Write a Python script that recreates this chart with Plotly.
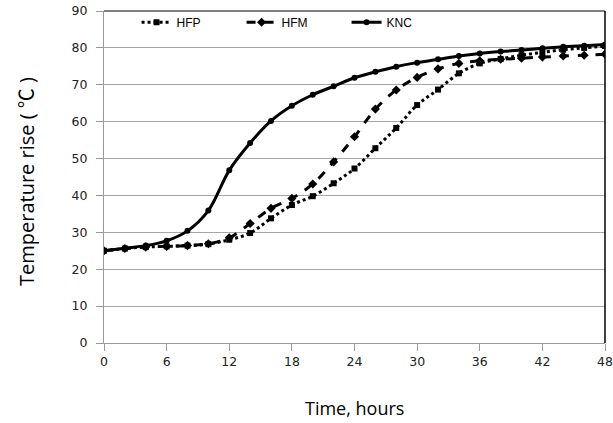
import plotly.graph_objects as go

hours = [0, 2, 4, 6, 8, 10, 12, 14, 16, 18, 20, 22, 24, 26, 28, 30, 32, 34, 36, 38, 40, 42, 44, 46, 48]

hfp = [25, 25.6, 26.0, 26.2, 26.4, 26.8, 28.0, 29.8, 33.8, 37.4, 39.8, 43.3, 47.3, 52.8, 58.3, 64.5,
       68.7, 73.1, 75.8, 77.0, 78.0, 78.8, 79.5, 80.0, 80.5]
hfm = [25, 25.6, 26.0, 26.2, 26.4, 26.9, 28.5, 32.4, 36.5, 39.2, 43.1, 49.1, 55.9, 63.4, 68.6, 72.0,
       74.3, 75.8, 76.5, 76.9, 77.2, 77.5, 77.8, 78.0, 78.3]
knc = [25, 25.7, 26.4, 27.7, 30.4, 35.9, 46.8, 54.2, 60.2, 64.3, 67.3, 69.6, 71.9, 73.5, 74.9, 76.0,
       76.9, 77.8, 78.5, 79.0, 79.4, 79.9, 80.3, 80.6, 80.9]

x_ticks = [0, 6, 12, 18, 24, 30, 36, 42, 48]
y_ticks = [0, 10, 20, 30, 40, 50, 60, 70, 80, 90]

x_title = "Time, hours"
y_title = "Temperature rise ( <span style=\"font-family:'Noto Sans CJK SC'\">℃</span> )"

fig = go.Figure()
fig.add_trace(go.Scatter(x=hours, y=hfp, name="HFP", mode="lines+markers",
                         line=dict(color="black", width=3, dash="dot", shape="spline"),
                         marker=dict(symbol="square", size=6, color="black")))
fig.add_trace(go.Scatter(x=hours, y=hfm, name="HFM", mode="lines+markers",
                         line=dict(color="black", width=3, dash="dash", shape="spline"),
                         marker=dict(symbol="diamond", size=7, color="black")))
fig.add_trace(go.Scatter(x=hours, y=knc, name="KNC", mode="lines+markers",
                         line=dict(color="black", width=3, shape="spline"),
                         marker=dict(symbol="circle", size=6, color="black")))

axis_font = dict(family="DejaVu Sans", size=12.5, color="#222222")
fig.update_layout(
    width=613, height=423,
    margin=dict(l=104, r=8, t=11, b=80),
    paper_bgcolor="white", plot_bgcolor="white",
    font=dict(family="Open Sans", color="black"),
    showlegend=True,
    legend=dict(orientation="h", x=0.065, y=1.01, xanchor="left", yanchor="top",
                font=dict(family="Liberation Sans", size=12, color="black"),
                bgcolor="rgba(255,255,255,0)", entrywidth=60, entrywidthmode="pixels"),
    xaxis=dict(range=[0, 48], tickvals=x_ticks, ticktext=[str(v) for v in x_ticks],
               showgrid=False, zeroline=False, showline=True, linecolor="#9a9a9a", linewidth=1,
               ticks="outside", ticklen=7, tickcolor="#9a9a9a", tickfont=axis_font,
               automargin=False),
    yaxis=dict(range=[0, 90], tickvals=y_ticks, ticktext=[str(v) for v in y_ticks],
               showgrid=True, gridcolor="#a6a6a6", gridwidth=1, zeroline=False,
               showline=True, linecolor="#9a9a9a", linewidth=1,
               ticks="outside", ticklen=7, tickcolor="#9a9a9a", tickfont=axis_font,
               ticklabelstandoff=6, automargin=False),
)
fig.add_annotation(text=x_title, xref="paper", yref="paper", x=0.5, y=0, yanchor="middle",
                   yshift=-65, showarrow=False,
                   font=dict(family="Open Sans", size=18, color="black"))
fig.add_annotation(text=y_title, xref="paper", yref="paper", x=0, y=0.5, xanchor="center",
                   xshift=-79, yshift=-5, textangle=-90, showarrow=False,
                   font=dict(family="Open Sans", size=20, color="black"))
fig.add_shape(type="line", xref="paper", yref="paper", x0=0, x1=1, y0=1, y1=1,
              line=dict(color="#555555", width=1.5))
fig.add_shape(type="line", xref="paper", yref="paper", x0=1, x1=1, y0=0, y1=1,
              line=dict(color="black", width=1.5))

fig.write_html("out.html", config={"displayModeBar": False},
               post_script="document.body.style.margin='0';")
